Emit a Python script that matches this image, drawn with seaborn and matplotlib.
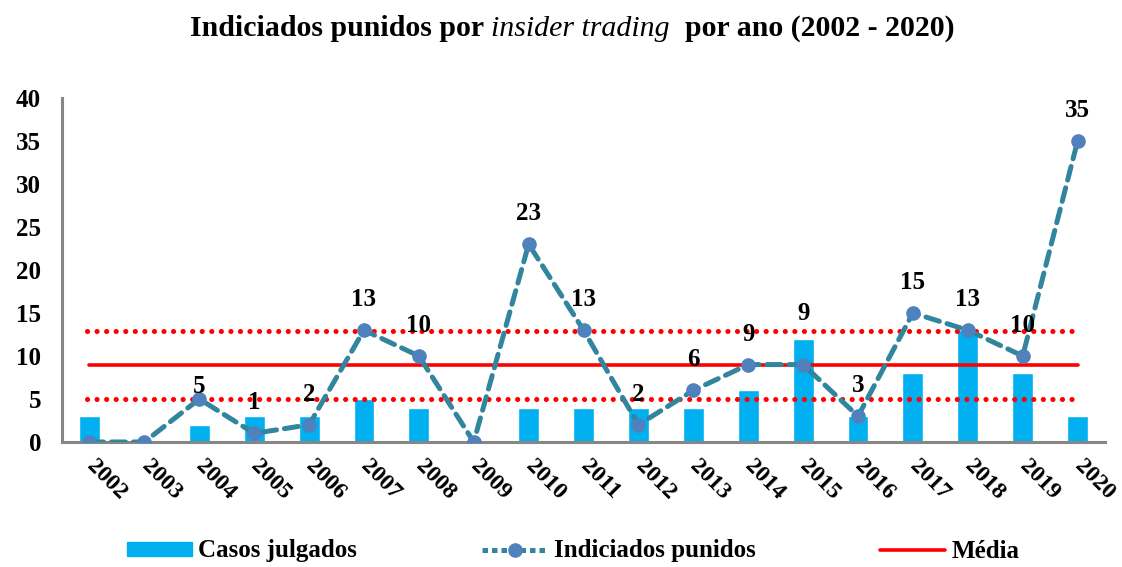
import matplotlib
matplotlib.use("Agg")
import matplotlib.pyplot as plt
import seaborn as sns
import numpy as np
import pandas as pd
from matplotlib.lines import Line2D
from matplotlib.patches import Patch

# dados
anos = [str(a) for a in range(2002, 2021)]
casos_julgados = [3, 0, 2, 3, 3, 5, 4, 0, 4, 4, 4, 4, 6, 12, 3, 8, 13, 8, 3]
indiciados_punidos = [0, 0, 5, 1, 2, 13, 10, 0, 23, 13, 2, 6, 9, 9, 3, 15, 13, 10, 35]
faixa_superior = 12.9
faixa_inferior = 5.0
media = np.mean(indiciados_punidos)

df = pd.DataFrame({'ano': anos, 'casos': casos_julgados, 'indiciados': indiciados_punidos})

sns.set_style("white")
plt.rcParams['font.family'] = ['Liberation Serif', 'DejaVu Serif']
plt.rcParams['font.weight'] = 'bold'
plt.rcParams['text.color'] = 'black'
plt.rcParams['xtick.labelcolor'] = 'black'
plt.rcParams['ytick.labelcolor'] = 'black'

cor_barra = '#00B0F0'
cor_linha = '#31859C'
cor_marcador = '#4F81BD'
cor_eixo = '#868686'

fig = plt.figure(figsize=(11.22, 5.67), dpi=100)
ax = fig.add_axes([0.0553, 0.2205, 0.9296, 0.6067])

sns.barplot(data=df, x='ano', y='casos', color=cor_barra, width=0.38,
            saturation=1, ax=ax, zorder=2)

x = np.arange(len(anos))
ax.plot(x, df['indiciados'], color=cor_linha, lw=3.6, dashes=(2.8, 1.6),
        dash_capstyle='round', marker='o', markersize=9.5,
        markerfacecolor=cor_marcador, markeredgecolor=cor_marcador, zorder=4)

ax.plot([x[0], x[-1]], [media, media], color='red', lw=2.6, zorder=3)
for nivel in (faixa_superior, faixa_inferior):
    ax.plot([x[0] - 0.05, x[-1]], [nivel, nivel], color='red', lw=3.7,
            dashes=(0.01, 1.85), dash_capstyle='round', solid_capstyle='round', zorder=3)

# rótulos dos valores (zeros não são rotulados)
deslocamento = {2: 9, 13: 37}
for i, v in enumerate(indiciados_punidos):
    if v == 0:
        continue
    ax.annotate(str(v), (i, v), xytext=(0, deslocamento.get(i, 22)),
                textcoords='offset points', ha='center', va='center',
                fontsize=18, fontweight='bold', zorder=5)

ax.set_xlim(-0.5, len(anos) - 0.5)
ax.set_ylim(0, 40)
ax.set_yticks(range(0, 41, 5))
ax.set_xlabel('')
ax.set_ylabel('')

for lado in ('top', 'right'):
    ax.spines[lado].set_visible(False)
for lado in ('left', 'bottom'):
    ax.spines[lado].set_color(cor_eixo)
    ax.spines[lado].set_linewidth(2.2)

ax.set_xticks(x)
ax.set_xticks(np.arange(-0.5, len(anos), 1), minor=True)
ax.tick_params(axis='x', which='major', length=0, pad=15)
ax.tick_params(axis='x', which='minor', length=6, width=2.2, color=cor_eixo, direction='out')
ax.tick_params(axis='y', length=6, width=2.2, color=cor_eixo, direction='out', labelsize=18, pad=9)
ax.set_xticklabels(anos, rotation=-45, ha='left', va='center', rotation_mode='anchor',
                   fontsize=17, fontweight='bold')
for t in ax.get_yticklabels():
    t.set_fontweight('bold')

# título com trecho em itálico
partes = [("Indiciados punidos por ", 'normal', 'bold'),
          ("insider trading", 'italic', 'normal'),
          ("  por ano (2002 - 2020)", 'normal', 'bold')]
renderer = fig.canvas.get_renderer()
textos = []
for txt, estilo, peso in partes:
    t = fig.text(0, 1 - 36 / 567, txt, fontsize=21.5, fontstyle=estilo, fontweight=peso,
                 ha='left', va='baseline')
    textos.append(t)
larguras = [t.get_window_extent(renderer).width for t in textos]
x0 = (572 - sum(larguras) / 2) / fig.bbox.width
for t, w in zip(textos, larguras):
    t.set_x(x0)
    x0 += w / fig.bbox.width

handles = [Patch(facecolor=cor_barra, edgecolor=cor_barra),
           Line2D([], [], color=cor_linha, lw=3.6, dashes=(1.1, 0.8), marker='o',
                  markersize=9.5, markerfacecolor=cor_marcador, markeredgecolor=cor_marcador),
           Line2D([], [], color='red', lw=2.6)]
fig.legend(handles, ['Casos julgados', 'Indiciados punidos', 'Média'],
           loc='center', bbox_to_anchor=(0.511, 1 - 551 / 567), ncol=3, frameon=False,
           prop={'size': 18, 'weight': 'bold'}, handlelength=2.6, handleheight=0.5,
           columnspacing=5.0, handletextpad=0.25)

fig.savefig('out.png', dpi=100)
